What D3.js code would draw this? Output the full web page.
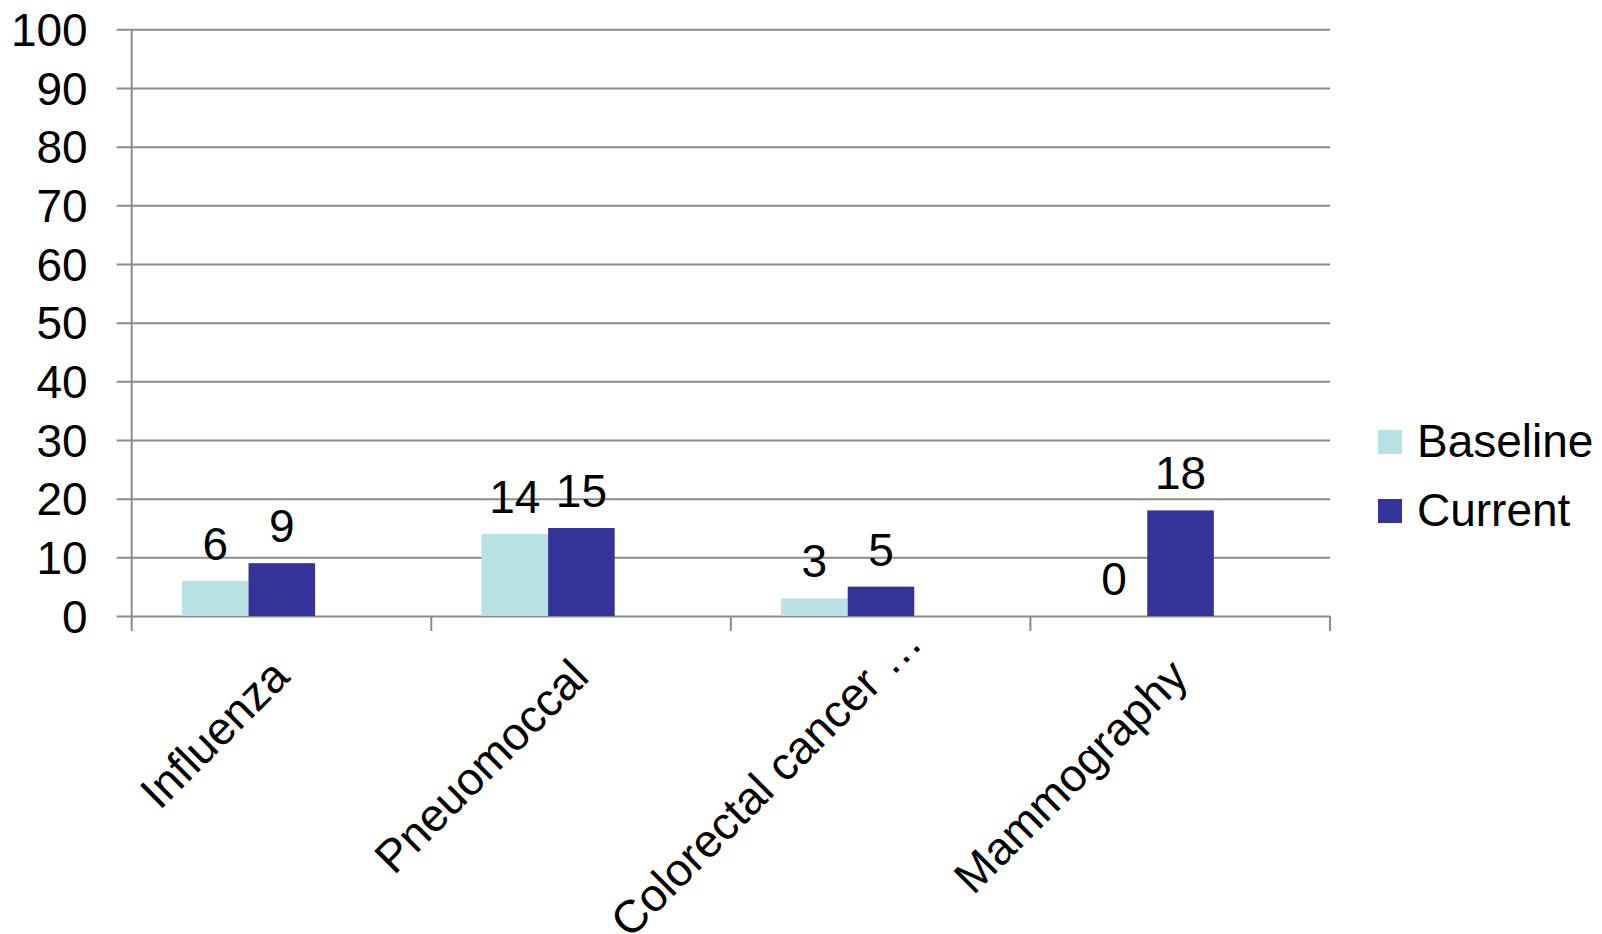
<!DOCTYPE html>
<html>
<head>
<meta charset="utf-8">
<script src="https://cdn.jsdelivr.net/npm/d3@7"></script>
<style>
  html, body { margin: 0; padding: 0; background: #ffffff; }
  svg { display: block; }
  text { font-family: "Liberation Sans", Arial, sans-serif; fill: #000; }
</style>
</head>
<body>
<svg id="chart" width="1602" height="934"></svg>
<script>
// Screening / vaccination rates (%)
const categories = ["Influenza", "Pneuomoccal", "Colorectal cancer \u2026", "Mammography"];
const seriesNames = ["Baseline", "Current"];
const baselineValues = [6, 14, 3, 0];
const currentValues = [9, 15, 5, 18];
const yTicks = [0, 10, 20, 30, 40, 50, 60, 70, 80, 90, 100];

const colors = { Baseline: "#b9e0e3", Current: "#333399" };
const values = { Baseline: baselineValues, Current: currentValues };

const svg = d3.select("#chart");
const plotLeft = 131.7, plotRight = 1330, plotTop = 29.3, plotBottom = 616;
const fontSize = 46;
const gridColor = "#8c8c8c";

const x = d3.scaleBand().domain(categories).range([plotLeft, plotRight]).padding(0);
// Bar pair sits a little left of each category's centre
const x1 = d3.scaleBand().domain(seriesNames).range([0, x.bandwidth()])
  .paddingInner(0).paddingOuter(1.25).align(0.302);
const y = d3.scaleLinear().domain([0, 100]).range([plotBottom, plotTop]);

// Horizontal gridlines with left tick labels
const yAxis = d3.axisLeft(y).tickValues(yTicks)
  .tickSize(plotRight - plotLeft + 15).tickPadding(29).tickSizeOuter(0);
const gy = svg.append("g").attr("transform", `translate(${plotRight},0)`).call(yAxis);
gy.select(".domain").remove();
gy.selectAll(".tick line").attr("stroke", gridColor).attr("stroke-width", 2);
gy.selectAll(".tick text")
  .attr("font-size", fontSize)
  .attr("font-family", '"Liberation Sans", Arial, sans-serif')
  .attr("fill", "#000")
  .attr("dy", "0.35em");

// Vertical axis line
svg.append("line")
  .attr("x1", plotLeft).attr("x2", plotLeft)
  .attr("y1", y(100)).attr("y2", plotBottom + 15)
  .attr("stroke", gridColor).attr("stroke-width", 2);

// Category boundary tick marks
const edges = categories.map(c => x(c)).concat([plotRight]);
svg.append("g").selectAll("line").data(edges.slice(1)).join("line")
  .attr("x1", d => d).attr("x2", d => d)
  .attr("y1", plotBottom).attr("y2", plotBottom + 15)
  .attr("stroke", gridColor).attr("stroke-width", 2);

// Bars
const rows = [];
categories.forEach((c, i) => {
  seriesNames.forEach(s => rows.push({ cat: c, series: s, value: values[s][i] }));
});

svg.append("g").selectAll("rect").data(rows).join("rect")
  .attr("x", d => x(d.cat) + x1(d.series))
  .attr("y", d => y(d.value))
  .attr("width", x1.bandwidth())
  .attr("height", d => plotBottom - y(d.value))
  .attr("fill", d => colors[d.series]);

// Value labels
svg.append("g").selectAll("text").data(rows).join("text")
  .attr("x", d => x(d.cat) + x1(d.series) + x1.bandwidth() / 2)
  .attr("y", d => y(d.value) - 21)
  .attr("text-anchor", "middle")
  .attr("font-size", fontSize)
  .text(d => d.value);

// Rotated category labels (long label slides further along its baseline)
const labelShift = [0, 0, 48, 0];
svg.append("g").selectAll("text").data(categories).join("text")
  .attr("transform", (d, i) => {
    const cx = x(d) + x.bandwidth() / 2 + 10;
    const cy = plotBottom + 63;
    const s = labelShift[i] / Math.SQRT2;
    return `translate(${cx + s},${cy - s}) rotate(-45)`;
  })
  .attr("text-anchor", "end")
  .attr("font-size", fontSize)
  .text(d => d);

// Legend
const legend = svg.append("g").selectAll("g").data(seriesNames).join("g")
  .attr("transform", (d, i) => `translate(1378,${430 + i * 69})`);
legend.append("rect")
  .attr("width", 24).attr("height", 24)
  .attr("fill", d => colors[d]);
legend.append("text")
  .attr("x", 39).attr("y", 27)
  .attr("font-size", fontSize)
  .text(d => d);
</script>
</body>
</html>
